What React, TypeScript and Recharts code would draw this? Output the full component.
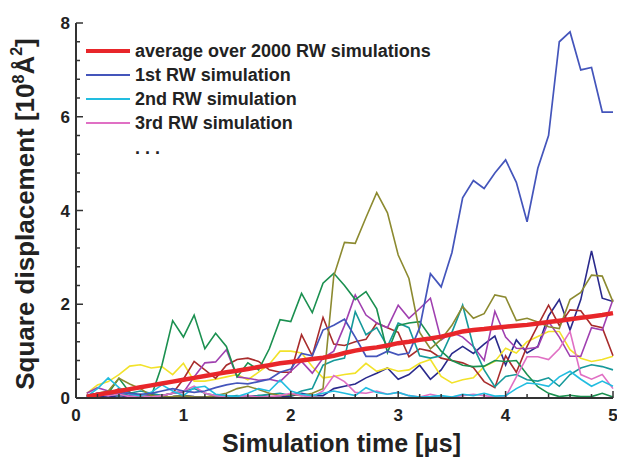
import { LineChart, Line, XAxis, YAxis, Legend } from 'recharts'

const times = [
  0.1, 0.2, 0.3, 0.4, 0.5, 0.6, 0.7, 0.8, 0.9, 1.0,
  1.1, 1.2, 1.3, 1.4, 1.5, 1.6, 1.7, 1.8, 1.9, 2.0,
  2.1, 2.2, 2.3, 2.4, 2.5, 2.6, 2.7, 2.8, 2.9, 3.0,
  3.1, 3.2, 3.3, 3.4, 3.5, 3.6, 3.7, 3.8, 3.9, 4.0,
  4.1, 4.2, 4.3, 4.4, 4.5, 4.6, 4.7, 4.8, 4.9, 5.0,
]

const average = [
  0.03, 0.07, 0.11, 0.15, 0.19, 0.23, 0.27, 0.31, 0.35, 0.39,
  0.43, 0.47, 0.51, 0.55, 0.58, 0.62, 0.66, 0.70, 0.74, 0.77,
  0.80, 0.83, 0.86, 0.90, 0.96, 1.01, 1.05, 1.08, 1.12, 1.17,
  1.20, 1.24, 1.27, 1.31, 1.36, 1.42, 1.45, 1.47, 1.50, 1.52,
  1.54, 1.56, 1.59, 1.62, 1.65, 1.68, 1.71, 1.74, 1.77, 1.81,
]

const rw1 = [
  0.05, 0.1, 0.08, 0.12, 0.1, 0.08, 0.1, 0.15, 0.2, 0.15,
  0.12, 0.15, 0.22, 0.28, 0.32, 0.3, 0.35, 0.4, 0.55, 0.62,
  0.95, 0.9, 1.45, 1.55, 1.68, 1.3, 0.89, 0.89, 1.0, 0.92,
  0.96, 1.5, 2.65, 2.37, 3.1, 4.27, 4.64, 4.47, 4.8, 5.08,
  4.6, 3.76, 4.9, 5.6, 7.6, 7.81, 7.0, 7.05, 6.1, 6.1,
]

const rw2 = [
  0.03, 0.2, 0.43, 0.22, 0.08, 0.05, 0.12, 0.28, 0.15, 0.05,
  0.22, 0.25, 0.08, 0.05, 0.03, 0.1, 0.2, 0.15, 0.38, 0.15,
  0.08, 0.05, 0.1, 0.15, 0.1, 0.05, 0.22, 0.12, 0.08, 0.12,
  0.05, 0.02, 0.03, 0.05, 0.02, 0.08, 0.05, 0.1, 0.04, 0.05,
  0.2, 0.32, 0.3, 0.25, 0.45, 0.57, 0.4, 0.25, 0.36, 0.25,
]

const rw3 = [
  0.02, 0.1, 0.05, 0.08, 0.03, 0.05, 0.02, 0.05, 0.1, 0.15,
  0.25, 0.1, 0.05, 0.02, 0.03, 0.05, 0.02, 0.03, 0.05, 0.1,
  0.05, 0.02, 0.15, 0.48, 0.35, 0.12, 0.1, 0.15, 0.08, 0.12,
  0.05, 0.02, 0.08, 0.03, 0.02, 0.05, 0.08, 0.05, 0.02, 0.02,
  0.45, 0.88, 0.88, 0.82, 1.05, 1.42, 0.5, 0.4, 0.5, 0.2,
]

const rwOlive = [
  0.05, 0.1, 0.15, 0.42, 0.3, 0.2, 0.05, 0.02, 0.03, 0.05,
  0.02, 0.02, 0.05, 0.1, 0.2, 0.25, 0.18, 0.1, 0.05, 0.08,
  0.05, 0.1, 0.2, 2.6, 3.32, 3.3, 3.85, 4.38, 3.95, 3.05,
  2.55, 1.4, 1.05, 1.25, 1.55, 1.95, 1.7, 1.8, 2.2, 2.15,
  1.65, 1.7, 1.62, 1.52, 1.48, 2.1, 2.25, 2.62, 2.6, 2.05,
]

const rwGreen = [
  0.0, 0.05, 0.1, 0.42, 0.12, 0.05, 0.03, 0.7, 1.65, 1.3,
  1.77, 1.05, 1.38, 1.1, 0.45, 0.75, 0.6, 1.05, 1.67, 1.63,
  2.23, 1.82, 2.45, 2.66, 2.4, 2.1, 2.27, 1.9, 0.97, 1.55,
  1.6, 1.63, 1.3, 1.0, 0.8, 0.7, 0.67, 0.68, 0.8, 0.78,
  0.8, 0.5, 0.24, 0.1, 0.03, 0.06, 0.03, 0.03, 0.1, 0.02,
]

const rwTeal = [
  0.02, 0.05, 0.08, 0.05, 0.1, 0.15, 0.1, 0.05, 0.1, 0.15,
  0.2, 0.1, 0.05, 0.03, 0.05, 0.02, 0.05, 0.08, 0.1, 0.05,
  0.15, 0.2, 0.7, 0.8, 0.85, 1.84, 1.35, 1.5, 1.1, 1.6,
  1.5, 0.9, 0.85, 0.9, 1.4, 1.98, 1.1, 0.6, 0.24, 0.46,
  0.5, 0.39, 0.36, 0.43, 0.25, 0.5, 0.64, 0.71, 0.67, 0.6,
]

const rwPurple = [
  0.1, 0.22, 0.15, 0.1, 0.05, 0.08, 0.03, 0.05, 0.1, 0.12,
  0.45, 0.75, 0.77, 1.03, 0.45, 0.42, 0.38, 0.4, 0.35, 0.57,
  0.78, 0.53, 0.85, 1.0, 1.55, 2.2, 1.77, 1.6, 1.5, 1.98,
  1.7, 1.91, 2.13, 1.24, 1.4, 1.3, 1.1, 0.8, 1.85, 1.3,
  1.06, 1.05, 1.08, 1.63, 1.3, 0.89, 0.89, 1.5, 1.45, 2.1,
]

const rwBrown = [
  0.03, 0.1, 0.08, 0.2, 0.12, 0.05, 0.08, 0.05, 0.1, 0.4,
  0.78, 0.6, 0.42, 0.7, 0.82, 0.85, 0.78, 0.6, 0.55, 0.55,
  1.35, 0.9, 1.72, 1.15, 1.12, 1.2, 1.25, 1.6, 1.5, 1.4,
  0.88, 1.05, 1.0, 0.85, 0.8, 0.75, 0.65, 0.35, 0.22, 0.9,
  0.55, 1.1, 1.55, 1.98, 1.55, 1.88, 1.86, 1.55, 1.5, 0.9,
]

const rwYellow = [
  0.1, 0.28, 0.35, 0.5, 0.68, 0.71, 0.64, 0.67, 0.5, 0.74,
  0.36, 0.36, 0.4, 0.45, 0.5, 0.39, 0.55, 0.72, 1.0, 1.0,
  0.96, 0.67, 0.43, 0.46, 0.5, 0.53, 0.74, 0.57, 0.64, 0.57,
  0.6, 0.74, 0.82, 0.46, 0.32, 0.39, 0.43, 0.67, 0.78, 1.06,
  0.96, 1.2, 1.31, 1.42, 1.42, 1.03, 0.85, 0.78, 0.82, 0.89,
]

const rwNavy = [
  0.05, 0.03, 0.02, 0.05, 0.03, 0.02, 0.04, 0.02, 0.03, 0.05,
  0.03, 0.02, 0.04, 0.03, 0.02, 0.03, 0.05, 0.03, 0.02, 0.04,
  0.1, 0.05, 0.05, 0.2, 0.25, 0.3, 0.43, 0.53, 0.64, 0.4,
  0.5, 0.7, 0.4, 0.6, 0.95, 1.1, 0.95, 1.15, 1.32, 0.7,
  1.24, 0.96, 1.1, 1.75, 2.1, 1.45, 2.1, 3.14, 2.13, 2.06,
]

const xTicks = [
  0, 0.2, 0.4, 0.6, 0.8, 1, 1.2, 1.4, 1.6, 1.8, 2, 2.2, 2.4, 2.6, 2.8,
  3, 3.2, 3.4, 3.6, 3.8, 4, 4.2, 4.4, 4.6, 4.8, 5,
]
const yTicks = [
  0, 0.4, 0.8, 1.2, 1.6, 2, 2.4, 2.8, 3.2, 3.6, 4, 4.4, 4.8, 5.2, 5.6,
  6, 6.4, 6.8, 7.2, 7.6, 8,
]

const legendItems = [
  { name: 'average over 2000 RW simulations', color: '#e8262a', width: 4.5 },
  { name: '1st RW simulation', color: '#4455bb', width: 1.6 },
  { name: '2nd RW simulation', color: '#22bde0', width: 1.6 },
  { name: '3rd RW simulation', color: '#e070c4', width: 1.6 },
]

const data = times.map((t, i) => ({
  t,
  average: average[i],
  rw1: rw1[i],
  rw2: rw2[i],
  rw3: rw3[i],
  olive: rwOlive[i],
  green: rwGreen[i],
  teal: rwTeal[i],
  purple: rwPurple[i],
  brown: rwBrown[i],
  yellow: rwYellow[i],
  navy: rwNavy[i],
}))

const FONT = '"Liberation Sans", Arial, sans-serif'
const AXIS = '#333'

const isMajor = (v: number, step: number) => Math.abs(v / step - Math.round(v / step)) < 1e-6

function BottomTick({ x, y, payload }: any) {
  const major = isMajor(payload.value, 1)
  return (
    <g>
      <line x1={x} x2={x} y1={y} y2={y - (major ? 7 : 4)} stroke={AXIS} strokeWidth={1.5} />
      {major && (
        <text x={x} y={y + 23} textAnchor="middle" fontFamily={FONT} fontWeight="bold" fontSize={17} fill="#222">
          {payload.value}
        </text>
      )}
    </g>
  )
}

function TopTick({ x, y, payload }: any) {
  const major = isMajor(payload.value, 1)
  return <line x1={x} x2={x} y1={y} y2={y + (major ? 7 : 4)} stroke={AXIS} strokeWidth={1.5} />
}

function LeftTick({ x, y, payload }: any) {
  const major = isMajor(payload.value, 2)
  return (
    <g>
      <line x1={x} x2={x + (major ? 7 : 4)} y1={y} y2={y} stroke={AXIS} strokeWidth={1.5} />
      {major && (
        <text x={x - 6} y={y + 6} textAnchor="end" fontFamily={FONT} fontWeight="bold" fontSize={17} fill="#222">
          {payload.value}
        </text>
      )}
    </g>
  )
}

function RightTick({ x, y, payload }: any) {
  const major = isMajor(payload.value, 2)
  return <line x1={x} x2={x - (major ? 7 : 4)} y1={y} y2={y} stroke={AXIS} strokeWidth={1.5} />
}

function XTitle({ viewBox }: any) {
  const cx = viewBox.x + viewBox.width / 2
  return (
    <text x={cx - 3} y={452} textAnchor="middle" fontFamily={FONT} fontWeight="bold" fontSize={25} fill="#222">
      Simulation time [μs]
    </text>
  )
}

function YTitle() {
  return (
    <text
      x={0}
      y={0}
      transform="translate(34, 214) rotate(-90)"
      textAnchor="middle"
      fontFamily={FONT}
      fontWeight="bold"
      fontSize={26}
      fill="#222"
    >
      Square displacement [10
      <tspan fontSize={16} dy={-10}>8</tspan>
      <tspan dy={10}>Å</tspan>
      <tspan fontSize={16} dy={-12}>2</tspan>
      <tspan dy={12}>]</tspan>
    </text>
  )
}

function LegendBox() {
  return (
    <div style={{ fontFamily: FONT, fontWeight: 'bold', fontSize: 18, color: '#222', lineHeight: '24px' }}>
      {legendItems.map((it) => (
        <div key={it.name} style={{ display: 'flex', alignItems: 'center', whiteSpace: 'nowrap' }}>
          <span style={{ display: 'inline-block', width: 44, height: it.width, background: it.color, marginRight: 5 }} />
          <span>{it.name}</span>
        </div>
      ))}
      <div style={{ paddingLeft: 49, lineHeight: '26px' }}>. . .</div>
    </div>
  )
}

export default function App() {
  return (
    <div style={{ position: 'absolute', left: 0, top: 0, width: 617, height: 463, background: '#fff' }}>
      <LineChart width={617} height={463} data={data} margin={{ top: 23, right: 4, left: 0, bottom: 0 }}>
        <XAxis
          dataKey="t"
          type="number"
          domain={[0, 5]}
          ticks={xTicks}
          interval={0}
          tickSize={0}
          tickMargin={0}
          tickLine={false}
          tick={<BottomTick />}
          axisLine={{ stroke: AXIS, strokeWidth: 2 }}
          height={65}
          label={<XTitle />}
        />
        <XAxis
          xAxisId="top"
          orientation="top"
          type="number"
          domain={[0, 5]}
          ticks={xTicks}
          interval={0}
          tickSize={0}
          tickMargin={0}
          tickLine={false}
          tick={<TopTick />}
          axisLine={{ stroke: AXIS, strokeWidth: 2 }}
          height={0}
        />
        <YAxis
          type="number"
          domain={[0, 8]}
          ticks={yTicks}
          interval={0}
          tickSize={0}
          tickMargin={0}
          tickLine={false}
          tick={<LeftTick />}
          axisLine={{ stroke: AXIS, strokeWidth: 2 }}
          width={76}
          label={<YTitle />}
        />
        <YAxis
          yAxisId="right"
          orientation="right"
          type="number"
          domain={[0, 8]}
          ticks={yTicks}
          interval={0}
          tickSize={0}
          tickMargin={0}
          tickLine={false}
          tick={<RightTick />}
          axisLine={{ stroke: AXIS, strokeWidth: 2 }}
          width={0}
        />
        <Legend
          layout="vertical"
          align="center"
          verticalAlign="middle"
          content={<LegendBox />}
          wrapperStyle={{ top: 39, left: 86, width: 'auto' }}
        />
        <Line dataKey="navy" stroke="#2a2a8c" strokeWidth={1.6} dot={false} isAnimationActive={false} legendType="none" />
        <Line dataKey="yellow" stroke="#f2e22a" strokeWidth={1.6} dot={false} isAnimationActive={false} legendType="none" />
        <Line dataKey="brown" stroke="#a82c2c" strokeWidth={1.6} dot={false} isAnimationActive={false} legendType="none" />
        <Line dataKey="purple" stroke="#a040b0" strokeWidth={1.6} dot={false} isAnimationActive={false} legendType="none" />
        <Line dataKey="teal" stroke="#16999a" strokeWidth={1.6} dot={false} isAnimationActive={false} legendType="none" />
        <Line dataKey="green" stroke="#1b9050" strokeWidth={1.6} dot={false} isAnimationActive={false} legendType="none" />
        <Line dataKey="olive" stroke="#8c8a30" strokeWidth={1.6} dot={false} isAnimationActive={false} legendType="none" />
        <Line dataKey="rw3" name="3rd RW simulation" stroke="#e070c4" strokeWidth={1.6} dot={false} isAnimationActive={false} />
        <Line dataKey="rw2" name="2nd RW simulation" stroke="#22bde0" strokeWidth={1.6} dot={false} isAnimationActive={false} />
        <Line dataKey="rw1" name="1st RW simulation" stroke="#4455bb" strokeWidth={1.7} dot={false} isAnimationActive={false} />
        <Line dataKey="average" name="average over 2000 RW simulations" stroke="#e8262a" strokeWidth={4.5} dot={false} isAnimationActive={false} />
      </LineChart>
    </div>
  )
}
